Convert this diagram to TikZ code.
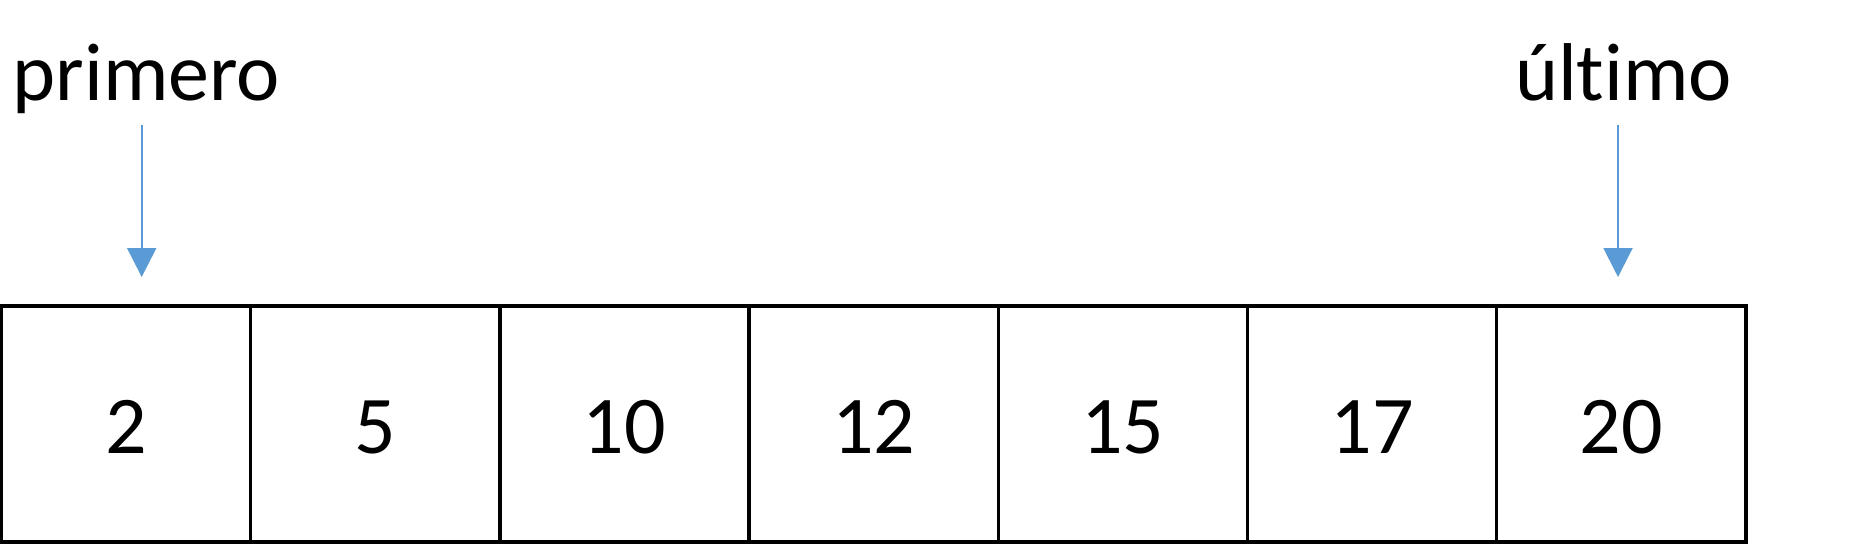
\documentclass[tikz,border=0pt]{standalone}
\usepackage{fontspec}
\setmainfont{Carlito}[Ligatures=NoCommon]
\usetikzlibrary{arrows.meta}
\definecolor{arrowblue}{RGB}{91,155,213}
\begin{document}
\begin{tikzpicture}[x=1pt,y=-1pt,
  cell/.style={draw=black, line width=3.4pt, minimum width=249.2pt, minimum height=236pt,
    inner sep=0pt, text height=58pt, text depth=0pt, font=\fontsize{82}{98}\selectfont},
  lbl/.style={inner sep=0pt, anchor=base, font=\fontsize{82}{98}\selectfont},
  pointer/.style={draw=arrowblue, line width=2pt, -{Triangle[width=29pt,length=29pt]}}]
\useasboundingbox (0,0) rectangle (1876,544);
\fill[white] (0,0) rectangle (1876,544);
\foreach \v [count=\i] in {2,5,10,12,15,17,20}{
  \node[cell] (c\i) at ({1.5+124.6+249.2*(\i-1)},424) {\v};
}
\node[lbl] (primero) at (146.5,100) {primero};
\node[lbl] (ultimo) at (1623.5,100) {último};
\coordinate (p1) at (141.7,125);
\coordinate (p2) at (141.7,277);
\coordinate (u1) at (1618,125);
\coordinate (u2) at (1618,277);
\draw[pointer] (p1) -- (p2);
\draw[pointer] (u1) -- (u2);
\end{tikzpicture}
\end{document}
